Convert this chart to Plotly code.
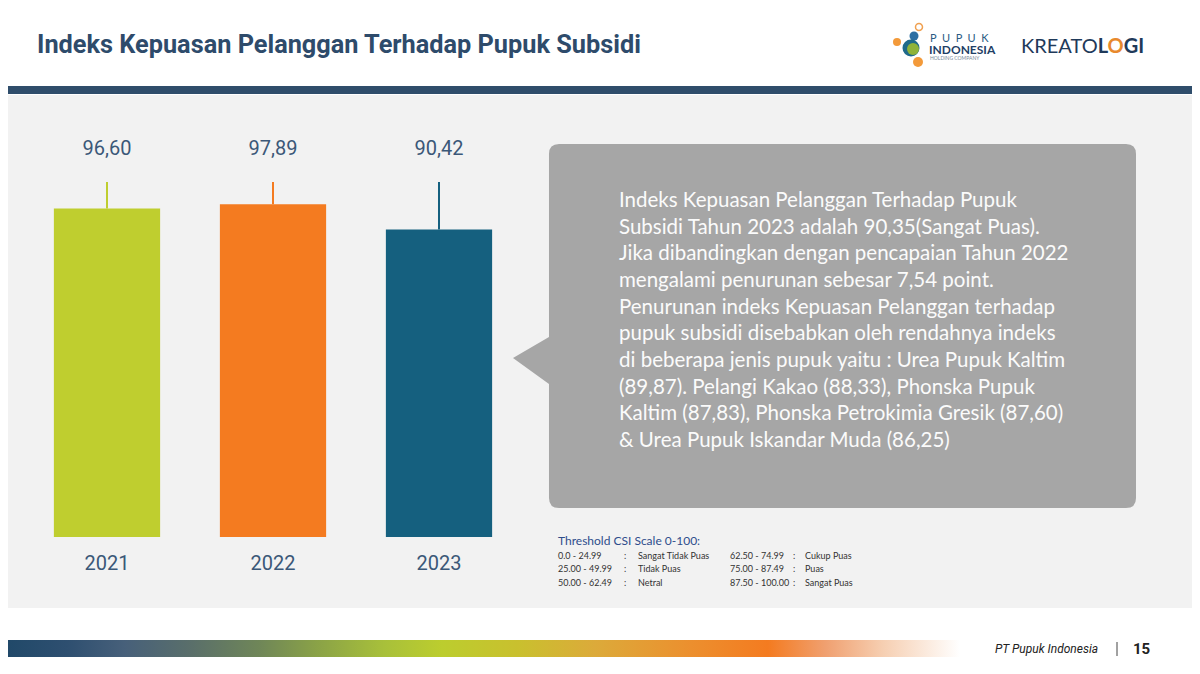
import plotly.graph_objects as go

W, H = 1200, 674
OFFSET = 8  # the page body margin pushes the figure 8px right and down

# chart data
years = ["2021", "2022", "2023"]
csi_values = [96.60, 97.89, 90.42]
bar_colors = ["#bfce2f", "#f47b20", "#15607f"]
value_labels = [f"{v:.2f}".replace(".", ",") for v in csi_values]

callout_lines = [
    "Indeks Kepuasan Pelanggan Terhadap Pupuk",
    "Subsidi Tahun 2023 adalah 90,35(Sangat Puas).",
    "Jika dibandingkan dengan pencapaian Tahun 2022",
    "mengalami penurunan sebesar 7,54 point.",
    "Penurunan indeks Kepuasan Pelanggan terhadap",
    "pupuk subsidi disebabkan oleh rendahnya indeks",
    "di beberapa jenis pupuk yaitu : Urea Pupuk Kaltim",
    "(89,87). Pelangi Kakao (88,33), Phonska Pupuk",
    "Kaltim (87,83), Phonska Petrokimia Gresik (87,60)",
    "& Urea Pupuk Iskandar Muda (86,25)",
]

thresh_ranges_left = ["0.0 - 24.99", "25.00 - 49.99", "50.00 - 62.49"]
thresh_labels_left = ["Sangat Tidak Puas", "Tidak Puas", "Netral"]
thresh_ranges_right = ["62.50 - 74.99", "75.00 - 87.49", "87.50 - 100.00"]
thresh_labels_right = ["Cukup Puas", "Puas", "Sangat Puas"]

footer_stops = [
    [0.00, "#1f4868"], [0.07, "#2e4f70"], [0.13, "#47607a"], [0.20, "#5a6f6a"],
    [0.27, "#6f8658"], [0.33, "#8aa247"], [0.40, "#a8c03a"], [0.46, "#bccd2e"],
    [0.54, "#c9c02e"], [0.62, "#dcaa3a"], [0.72, "#ec8f2e"], [0.80, "#f47b20"],
    [0.86, "#f0a070"], [0.92, "#f6cfb2"], [1.00, "#ffffff"],
]

# layout constants (data units on the bar axis)
Y_MAX = 120
LEADER_TOP = 104.4
LABEL_LEVEL = 113.8

TEXT_BLUE = "#3b5878"


def px(x):
    return (x - OFFSET) / W


def py(y):
    return 1 - (y - OFFSET) / H


def pt(x, y):
    return f"{px(x):.5f},{py(y):.5f}"


fig = go.Figure()

fig.add_trace(
    go.Bar(
        x=years,
        y=csi_values,
        marker=dict(color=bar_colors, line=dict(width=0)),
        hoverinfo="skip",
        showlegend=False,
    )
)

# leader lines from the bar tops up towards the value labels
for year, value, color in zip(years, csi_values, bar_colors):
    fig.add_trace(
        go.Scatter(
            x=[year, year],
            y=[value, LEADER_TOP],
            mode="lines",
            line=dict(color=color, width=2),
            hoverinfo="skip",
            showlegend=False,
        )
    )

fig.add_trace(
    go.Scatter(
        x=years,
        y=[LABEL_LEVEL] * len(years),
        mode="text",
        text=value_labels,
        textposition="middle center",
        textfont=dict(family="Roboto", size=20, color=TEXT_BLUE),
        hoverinfo="skip",
        showlegend=False,
    )
)

# footer gradient strip on a pixel overlay axis
fig.add_trace(
    go.Scatter(
        x=[0, 960, 960, 0, 0],
        y=[640, 640, 657, 657, 640],
        xaxis="x2",
        yaxis="y2",
        mode="lines",
        fill="toself",
        fillgradient=dict(type="horizontal", colorscale=footer_stops),
        line=dict(width=0),
        hoverinfo="skip",
        showlegend=False,
    )
)

shapes = [
    # band and panel
    dict(type="rect", xref="paper", yref="paper", x0=0, x1=1, y0=py(94), y1=py(86),
         fillcolor="#2f4d6b", line=dict(width=0), layer="below"),
    dict(type="rect", xref="paper", yref="paper", x0=0, x1=px(1198), y0=py(608), y1=py(95),
         fillcolor="#f2f2f2", line=dict(width=0), layer="below"),
]

# callout box with pointer
L, T, R, B, r = 549, 144, 1136, 508, 10
callout_path = (
    f"M {pt(L + r, T)} L {pt(R - r, T)} Q {pt(R, T)} {pt(R, T + r)} "
    f"L {pt(R, B - r)} Q {pt(R, B)} {pt(R - r, B)} L {pt(L + r, B)} "
    f"Q {pt(L, B)} {pt(L, B - r)} L {pt(L, 384)} L {pt(513, 358)} L {pt(L, 337)} "
    f"L {pt(L, T + r)} Q {pt(L, T)} {pt(L + r, T)} Z"
)
shapes.append(dict(type="path", xref="paper", yref="paper", path=callout_path,
                   fillcolor="#a6a6a6", line=dict(width=0), layer="below"))

# Pupuk Indonesia logo dots
logo_dots = [
    (919, 27, 3.5, "rgba(0,0,0,0)", "#f0a050"),
    (914, 36, 4.5, "#2d6fa3", None),
    (897, 42, 4, "#f39a3a", None),
    (911, 48, 8.5, "#1f6a8a", None),
    (913, 49, 6, "#8fb339", None),
    (918, 62, 5, "#f39a3a", None),
]
for cx, cy, rad, fill, ring in logo_dots:
    shapes.append(dict(
        type="circle", xref="paper", yref="paper",
        x0=px(cx - rad), x1=px(cx + rad), y0=py(cy + rad), y1=py(cy - rad),
        fillcolor=fill, line=dict(width=1.5 if ring else 0, color=ring or fill),
    ))

# footer separator
shapes.append(dict(type="line", xref="paper", yref="paper", x0=px(1117), x1=px(1117),
                   y0=py(656), y1=py(642), line=dict(color="#444444", width=1)))

annotations = [
    dict(text="<b>Indeks Kepuasan Pelanggan Terhadap Pupuk Subsidi</b>",
         x=px(35), y=py(45), xanchor="left", yanchor="middle",
         font=dict(family="Roboto", size=25.3, color="#2e4b6b")),
    dict(text="<br>".join(callout_lines), x=px(617), y=py(185), xanchor="left", yanchor="top",
         align="left", font=dict(family="Lato", size=20.5, color="#fbfbfb")),
    dict(text="Threshold CSI Scale 0-100:", x=px(556), y=py(540), xanchor="left", yanchor="middle",
         font=dict(family="Lato", size=12, color="#2e4d8c")),
    # logos
    dict(text="P  U  P  U  K", x=px(928), y=py(38), xanchor="left", yanchor="middle",
         font=dict(family="Lato", size=11, color="#2b5b84")),
    dict(text="<b>INDONESIA</b>", x=px(927), y=py(49), xanchor="left", yanchor="middle",
         font=dict(family="Lato", size=12, color="#1f3f66")),
    dict(text="HOLDING COMPANY", x=px(928), y=py(58), xanchor="left", yanchor="middle",
         font=dict(family="Lato", size=5, color="#7a8a99")),
    dict(text="KREATO<b>L</b><b><span style='color:#e8892c'>O</span>GI</b>",
         x=px(1019), y=py(45), xanchor="left", yanchor="middle",
         font=dict(family="Lato", size=20, color="#1f3a5a")),
    # footer
    dict(text="<i>PT Pupuk Indonesia</i>", x=px(1100), y=py(649), xanchor="right", yanchor="middle",
         font=dict(family="Roboto", size=12, color="#222222")),
    dict(text="<b>15</b>", x=px(1131), y=py(649), xanchor="left", yanchor="middle",
         font=dict(family="Roboto", size=15, color="#222222")),
]

thresh_rows_y = [555, 568, 582]
for i, row_y in enumerate(thresh_rows_y):
    for col_x, txt in [(556, thresh_ranges_left[i]), (622, ":"), (636, thresh_labels_left[i]),
                       (728, thresh_ranges_right[i]), (791, ":"), (803, thresh_labels_right[i])]:
        annotations.append(dict(
            text=txt, x=px(col_x), y=py(row_y), xanchor="left", yanchor="middle",
            font=dict(family="Lato", size=9, color="#333333"),
        ))

for a in annotations:
    a.setdefault("xref", "paper")
    a.setdefault("yref", "paper")
    a.setdefault("showarrow", False)

fig.update_layout(
    width=W,
    height=H,
    margin=dict(l=0, r=0, t=0, b=0, autoexpand=False),
    paper_bgcolor="#ffffff",
    plot_bgcolor="rgba(0,0,0,0)",
    bargap=0.36,
    showlegend=False,
    shapes=shapes,
    annotations=annotations,
    xaxis=dict(
        domain=[px(24), px(522)],
        type="category",
        categoryorder="array",
        categoryarray=years,
        range=[-0.5, 2.5],
        showgrid=False,
        zeroline=False,
        showline=False,
        ticks="",
        ticklabelstandoff=12,
        tickfont=dict(family="Roboto", size=20, color=TEXT_BLUE),
        fixedrange=True,
    ),
    yaxis=dict(
        domain=[py(537), py(129)],
        range=[0, Y_MAX],
        visible=False,
        fixedrange=True,
    ),
    xaxis2=dict(domain=[0, 1], range=[OFFSET, W + OFFSET], anchor="y2", visible=False, fixedrange=True),
    yaxis2=dict(domain=[0, 1], range=[H + OFFSET, OFFSET], anchor="x2", visible=False, fixedrange=True),
)

fig.write_html("out.html")
